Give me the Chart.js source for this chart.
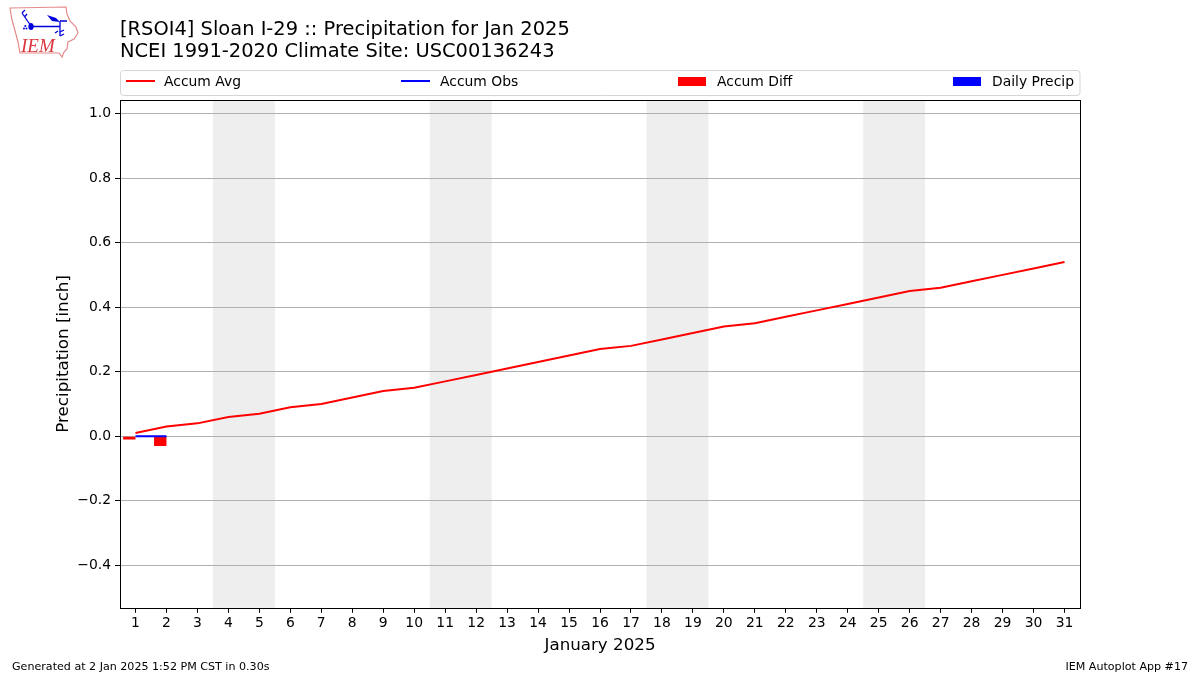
<!DOCTYPE html>
<html><head><meta charset="utf-8">
<style>
html,body{margin:0;padding:0;background:#fff;width:1200px;height:675px;overflow:hidden}
#wrap{position:relative;width:1200px;height:675px}
canvas{position:absolute;left:0;top:0}
</style></head><body>
<div id="wrap">
<canvas id="c" width="1200" height="675"></canvas>
<svg style="position:absolute;left:0;top:0" width="90" height="65" viewBox="0 0 90 65">
<path d="M10 8 L66 7 L67 14 L70 21 L76 27 L78 33 L74 39 L68 42 L67 49 L64 52 L62 57 L59 53 L20 53 L18 42 L14 27 L12 20 Z" fill="#fff" stroke="#e58a8a" stroke-width="1.2"/>
<g stroke="#0000dd" fill="#0000dd">
<path d="M31 26.5 H60 M60 21 H67 M60 21 V36 M31 26 L22 13 M22 13 L25 10 M24.5 17 L27 14" stroke-width="1.3" fill="none"/>
<path d="M47 15 L56 18 L60 22 L52 21 Z" stroke="none"/>
<ellipse cx="31" cy="26.5" rx="2.6" ry="3.6" stroke="none"/>
<path d="M55 33 L58 31 M60 36 L64 34 M60 32 L64 30" stroke-width="1.3" fill="none"/>
<circle cx="24" cy="28.5" r="1" stroke="none"/><circle cx="26.5" cy="28.5" r="1" stroke="none"/><circle cx="25.3" cy="26" r="1" stroke="none"/>
</g>
<text x="21" y="52" font-family="Liberation Serif" font-style="italic" font-size="19" fill="#d9363e">IEM</text>
</svg>
</div>
<script src="https://cdn.jsdelivr.net/npm/chart.js@4"></script>
<script>
const days = ["1","2","3","4","5","6","7","8","9","10","11","12","13","14","15","16","17","18","19","20","21","22","23","24","25","26","27","28","29","30","31"];
const accumAvg = [0.01,0.03,0.04,0.06,0.07,0.09,0.10,0.12,0.14,0.15,0.17,0.19,0.21,0.23,0.25,0.27,0.28,0.30,0.32,0.34,0.35,0.37,0.39,0.41,0.43,0.45,0.46,0.48,0.50,0.52,0.54];
const accumObs = [0,0];
const accumDiff = [-0.01,-0.03];
const dailyPrecip = [0,0];
const yTicks = [-0.4,-0.2,0,0.2,0.4,0.6,0.8,1.0];
const weekendBands = [["4","5"],["11","12"],["18","19"],["25","26"]];
const titleLines = ["[RSOI4] Sloan I-29 :: Precipitation for Jan 2025","NCEI 1991-2020 Climate Site: USC00136243"];
const xTitle = "January 2025";
const yTitle = "Precipitation [inch]";
const footerLeft = "Generated at 2 Jan 2025 1:52 PM CST in 0.30s";
const footerRight = "IEM Autoplot App #17";
const FONT = '"DejaVu Sans"';

const bands = {id:'bands', beforeDraw(ch){
  const {ctx,chartArea:a,scales:{x}} = ch;
  const half = (x.getPixelForTick(1)-x.getPixelForTick(0))/2;
  ctx.save(); ctx.fillStyle='#eeeeee';
  weekendBands.forEach(([s,e])=>{
    const l = x.getPixelForValue(days.indexOf(s))-half, r = x.getPixelForValue(days.indexOf(e))+half;
    ctx.fillRect(l,a.top,r-l,a.bottom-a.top);
  });
  ctx.restore();
}};
const frame = {id:'frame', afterDatasetsDraw(ch){
  const {ctx,chartArea:a} = ch;
  ctx.save(); ctx.strokeStyle='#000'; ctx.lineWidth=1;
  ctx.strokeRect(Math.round(a.left)+.5,Math.round(a.top)+.5,a.right-a.left,Math.round(a.bottom)-a.top);
  ctx.restore();
}};
const legendSlots = [[126,164],[401,440],[678,717],[953,992]];
const annot = {id:'annot', afterDraw(ch){
  const {ctx} = ch;
  ctx.save();
  ctx.fillStyle='#000'; ctx.textBaseline='alphabetic'; ctx.textAlign='left';
  ctx.font=`19.44px ${FONT}`;
  ctx.fillText(titleLines[0],120,35);
  ctx.fillText(titleLines[1],120,57);
  ctx.font=`11.1px ${FONT}`;
  ctx.fillText(footerLeft,12,670);
  ctx.textAlign='right';
  ctx.fillText(footerRight,1188,670);
  ctx.textAlign='left';
  ctx.strokeStyle='#d5d5d5'; ctx.lineWidth=1;
  ctx.beginPath(); ctx.roundRect(120.5,70.5,959.5,25,3); ctx.stroke();
  ctx.font=`13.9px ${FONT}`;
  ch.data.datasets.forEach((d,i)=>{
    const [mx,tx]=legendSlots[i];
    if(d.type==='line'){ctx.fillStyle=d.borderColor;ctx.fillRect(mx,80,29,2);}
    else{ctx.fillStyle=d.backgroundColor;ctx.fillRect(mx,77,28,9);}
    ctx.fillStyle='#000';
    ctx.fillText(d.label,tx,86);
  });
  ctx.restore();
}};

new Chart(document.getElementById('c'),{
  type:'bar',
  data:{labels:days,datasets:[
    {type:'line',label:'Accum Avg',data:accumAvg,borderColor:'#ff0000',backgroundColor:'#ff0000',borderWidth:2,pointRadius:0,tension:0,order:1},
    {type:'line',label:'Accum Obs',data:accumObs,borderColor:'#0000ff',backgroundColor:'#0000ff',borderWidth:2,pointRadius:0,tension:0,order:2},
    {type:'bar',label:'Accum Diff',data:accumDiff,backgroundColor:'#ff0000',borderWidth:0,categoryPercentage:0.8,barPercentage:1,order:3},
    {type:'bar',label:'Daily Precip',data:dailyPrecip,backgroundColor:'#0000ff',borderWidth:0,categoryPercentage:0.8,barPercentage:1,order:4}
  ]},
  plugins:[bands,frame,annot],
  options:{
    responsive:false,animation:false,devicePixelRatio:1,
    layout:{padding:{left:54,right:120,top:100,bottom:19}},
    plugins:{legend:{display:false},title:{display:false},tooltip:{enabled:false}},
    scales:{
      x:{type:'category',offset:true,
        grid:{offset:false,drawOnChartArea:false,drawTicks:true,tickLength:5,tickColor:'#000',color:'#000'},
        border:{display:false},
        ticks:{color:'#000',font:{family:FONT,size:13.9},padding:2,maxRotation:0,autoSkip:false},
        title:{display:true,text:xTitle,color:'#000',font:{family:FONT,size:16.7},padding:{top:2.5,bottom:0}}},
      y:{type:'linear',min:-0.5313,max:1.0417,
        afterBuildTicks(s){s.ticks=yTicks.map(v=>({value:v}));},
        afterFit(s){s.width=66;},
        grid:{color:'#b0b0b0',lineWidth:1,tickLength:5,tickColor:'#000'},
        border:{display:false},
        ticks:{color:'#000',font:{family:FONT,size:13.9},padding:4,
          callback(v){return (v<0?'\u2212':'')+Math.abs(v).toFixed(1);}},
        title:{display:true,text:yTitle,color:'#000',font:{family:FONT,size:16.7},padding:{top:0,bottom:0}}}
    }
  }
});
</script>
</body></html>
